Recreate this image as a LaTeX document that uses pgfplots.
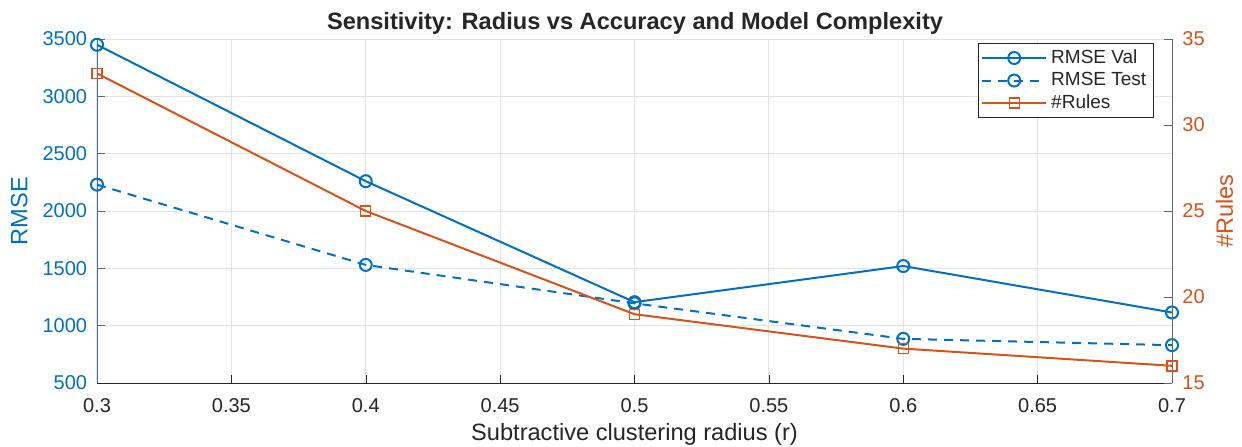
\documentclass[border=0pt]{standalone}
\usepackage{fontspec}
\setmainfont{Liberation Sans}
\usepackage{pgfplots}
\pgfplotsset{compat=1.18}

\definecolor{mblue}{rgb}{0,0.447,0.741}
\definecolor{morange}{rgb}{0.85,0.325,0.098}
\definecolor{axgray}{rgb}{0.15,0.15,0.15}
\definecolor{rightgray}{rgb}{0.4,0.4,0.4}
\definecolor{leftline}{rgb}{0.3,0.45,0.62}
\definecolor{gridgray}{rgb}{0.89,0.89,0.89}

\pgfplotsset{
  twin/.style={
    scale only axis, width=537.5pt, height=172pt,
    at={(0,0)}, anchor=south west,
    xmin=0.3, xmax=0.7,
    tick align=inside,
    major tick length=4pt,
    /pgf/number format/assume math mode=true,
    /pgf/number format/set thousands separator={},
    scaled ticks=false,
    tick label style={font=\fontsize{10}{12}\selectfont},
    label style={font=\fontsize{11.8}{14}\selectfont},
  },
  valstyle/.style={mblue, line width=1pt, mark=o, mark size=3pt, mark options={solid}},
  teststyle/.style={mblue, line width=1pt, dash pattern=on 4.5pt off 3.5pt, mark=o, mark size=3pt, mark options={solid}},
  rulesstyle/.style={morange, line width=1pt, mark=square, mark size=2.5pt, mark options={solid, line width=0.7pt}},
}

\begin{document}
\begin{tikzpicture}
\path[use as bounding box, fill=white] (-48.5pt,-31.5pt) rectangle (572.5pt,191.5pt);

% left axis: RMSE
\begin{axis}[twin,
  axis x line*=bottom, axis y line*=left,
  x axis line style={draw=axgray, -},
  y axis line style={draw=leftline, -},
  xtick={0.3,0.35,0.4,0.45,0.5,0.55,0.6,0.65,0.7},
  ymin=500, ymax=3500, ytick={500,1000,1500,2000,2500,3000,3500},
  xticklabel style={color=axgray, anchor=base, yshift=-14.5pt},
  yticklabel style={color=mblue, anchor=east, inner sep=0pt, xshift=-4.75pt},
  x tick style={axgray}, y tick style={rightgray},
  grid=major, major grid style={gridgray, line width=0.5pt},
  xlabel={Subtractive clustering radius (r)},
  xlabel style={color=axgray, at={(axis description cs:0.5,0)}, anchor=base, yshift=-28.5pt},
  ylabel={RMSE},
  ylabel style={color=mblue, at={(axis description cs:-0.0724,0.5)}, anchor=center},
  title={Sensitivity: Radius vs Accuracy and Model Complexity},
  title style={font=\bfseries\fontsize{11.8}{14}\selectfont, color=axgray,
    at={(axis description cs:0.5005,1)}, anchor=base, yshift=-1pt},
]
\addplot[valstyle] coordinates {(0.3,3450) (0.4,2260) (0.5,1205) (0.6,1520) (0.7,1115)};
\addplot[teststyle] coordinates {(0.3,2230) (0.4,1530) (0.5,1195) (0.6,885) (0.7,830)};
\end{axis}

% right axis: number of rules
\begin{axis}[twin,
  axis y line*=right, axis x line=none,
  ymin=15, ymax=35, ytick={15,20,25,30,35},
  y axis line style={draw=rightgray, -},
  y tick style={rightgray},
  yticklabel style={color=morange, anchor=west, inner sep=0pt, xshift=5pt},
  ylabel={\#Rules},
  ylabel style={color=morange, at={(axis description cs:1.0488,0.5)}, anchor=center},
  legend style={at={(axis description cs:0.983,0.988)}, anchor=north east,
    draw=axgray, line width=0.5pt, fill=white,
    font=\fontsize{9.5}{11}\selectfont, text=axgray,
    inner xsep=1.5pt, inner ysep=1pt, row sep=-1pt,
    nodes={inner sep=2pt}},
  legend cell align=left,
  legend image code/.code={\draw[mark repeat=2, mark phase=2] plot coordinates {(0pt,0pt) (16pt,0pt) (32pt,0pt)};},
]
\addlegendimage{valstyle}
\addlegendentry{RMSE Val}
\addlegendimage{teststyle}
\addlegendentry{RMSE Test}
\addplot[rulesstyle] coordinates {(0.3,33) (0.4,25) (0.5,19) (0.6,17) (0.7,16)};
\addlegendentry{\#Rules}
\end{axis}
\end{tikzpicture}
\end{document}
